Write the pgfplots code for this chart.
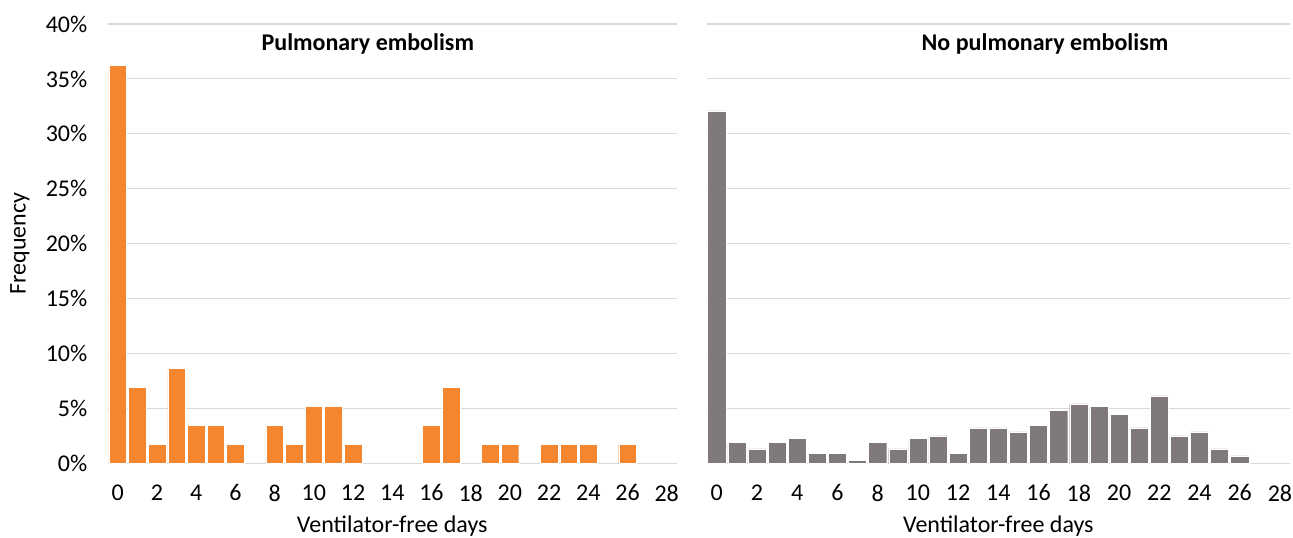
\documentclass[border=0pt]{standalone}
\usepackage{pgfplots}
\pgfplotsset{compat=1.18}
\usepackage{fontspec}
\setmainfont{Carlito}
\definecolor{peorange}{RGB}{244,134,48}
\definecolor{nogray}{RGB}{128,121,122}
\definecolor{gridgray}{RGB}{217,217,217}
\pgfplotsset{
  vfd/.style={
    scale only axis,
    height=329.5pt,
    ymin=0, ymax=40,
    xmin=-0.5, xmax=28.5,
    xtick={0,2,...,28},
    ytick={0,5,...,40},
    major tick length=0pt,
    axis line style={draw=none},
    axis x line*=bottom,
    ymajorgrids,
    grid style={gridgray, line width=0.8pt},
    ybar, bar width=0.9,
    /pgf/number format/assume math mode=true,
    tick label style={font=\fontsize{18}{21}\selectfont, text=black},
    xticklabel style={yshift=-12.5pt},
    yticklabel style={xshift=-12pt},
    xlabel={Ventilator-free days},
    xlabel style={at={(axis description cs:0.5,0)}, anchor=north, yshift=-36pt, font=\fontsize{18}{21}\selectfont},
    title style={anchor=center, yshift=0pt, font=\bfseries\fontsize{18}{21}\selectfont},
  }
}
\begin{document}
\begin{tikzpicture}
\useasboundingbox (-81pt,-55.3pt) rectangle (888.75pt,347.5pt);
\begin{axis}[vfd,
  width=426.4pt,
  yticklabels={0\%,5\%,10\%,15\%,20\%,25\%,30\%,35\%,40\%},
  ylabel={Frequency},
  ylabel style={at={(axis description cs:-0.155,0.5)}, anchor=center, font=\fontsize{18}{21}\selectfont},
  title={Pulmonary embolism},
  title style={at={(0.457,0.936)}},
]
\addplot[fill=peorange, draw=white, line width=0.3pt] coordinates {
(0,36.21) (1,6.90) (2,1.72) (3,8.62) (4,3.45) (5,3.45) (6,1.72)
(8,3.45) (9,1.72) (10,5.17) (11,5.17) (12,1.72)
(16,3.45) (17,6.90) (19,1.72) (20,1.72)
(22,1.72) (23,1.72) (24,1.72) (26,1.72)
};
\end{axis}
\begin{axis}[vfd,
  at={(449pt,0pt)},
  width=437.5pt,
  yticklabels={},
  title={No pulmonary embolism},
  title style={at={(0.58,0.936)}},
]
\addplot[fill=nogray, draw=white, line width=0.3pt] coordinates {
(0,32.1) (1,1.88) (2,1.31) (3,1.88) (4,2.25) (5,0.91) (6,0.91) (7,0.30)
(8,1.88) (9,1.31) (10,2.25) (11,2.49) (12,0.91) (13,3.22) (14,3.22)
(15,2.86) (16,3.47) (17,4.80) (18,5.41) (19,5.17) (20,4.44) (21,3.22)
(22,6.14) (23,2.49) (24,2.86) (25,1.31) (26,0.67)
};
\end{axis}
\end{tikzpicture}
\end{document}
